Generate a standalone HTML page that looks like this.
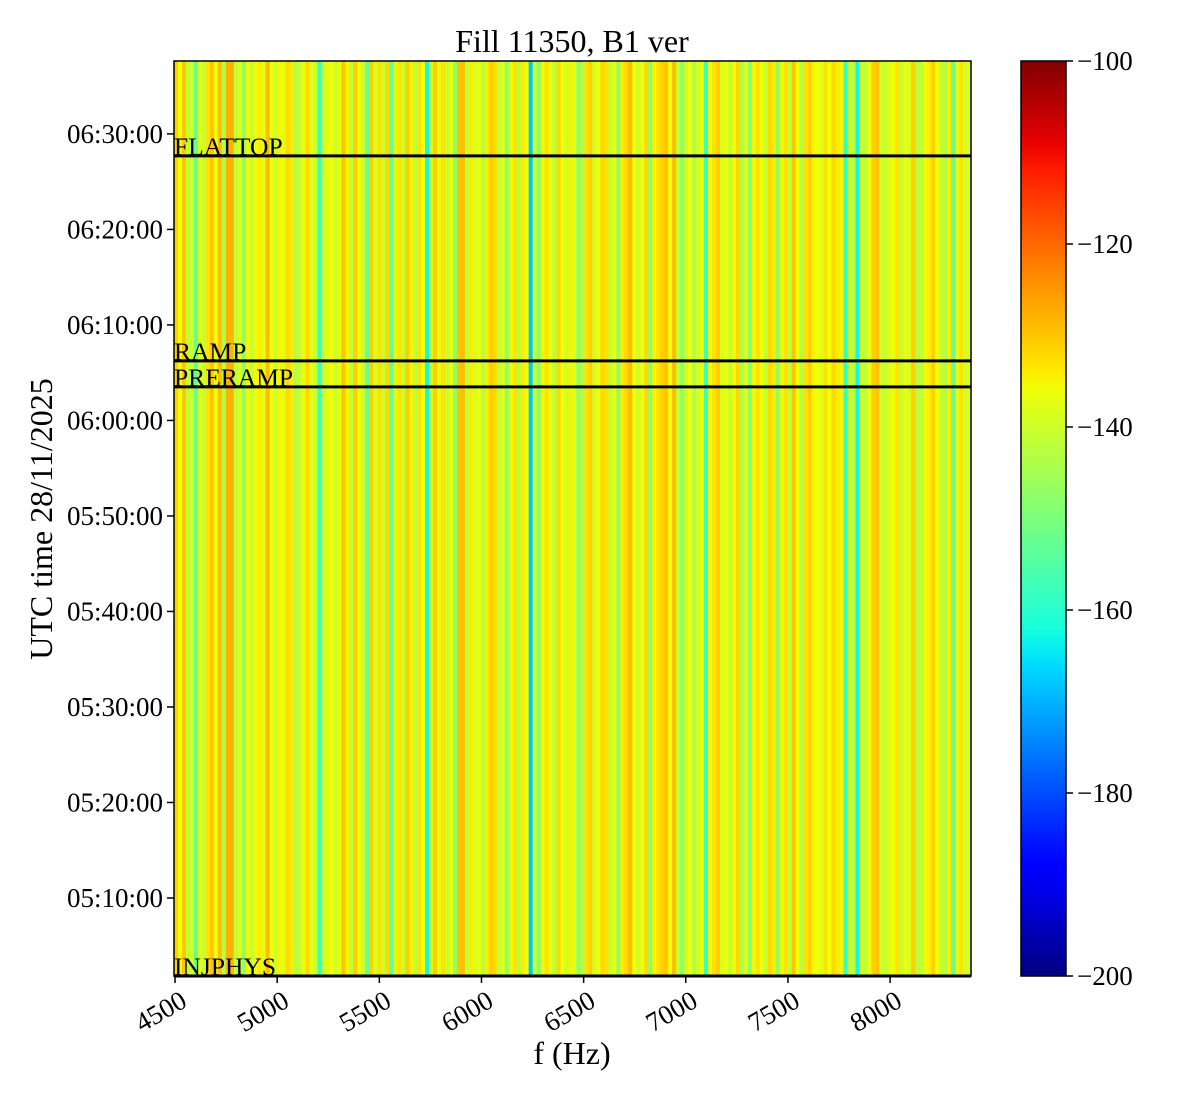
<!DOCTYPE html>
<html><head><meta charset="utf-8"><style>
body{margin:0;background:#fff}
svg text{font-family:"Liberation Serif",serif;fill:#000}
</style></head><body>
<svg id="chart" width="1200" height="1100" xmlns="http://www.w3.org/2000/svg">
<text x="572" y="52" font-size="32" text-anchor="middle">Fill 11350, B1 ver</text>
<g id="heat"></g>
<g id="events"></g>
<rect x="174" y="61" width="797" height="915" fill="none" stroke="#000" stroke-width="1.5"/>
<g id="xaxis"></g>
<g id="yaxis"></g>
<text x="572" y="1064" font-size="32" text-anchor="middle">f (Hz)</text>
<text transform="translate(52,519) rotate(-90)" font-size="32" text-anchor="middle">UTC time 28/11/2025</text>
<defs><linearGradient id="jetg" x1="0" y1="1" x2="0" y2="0"></linearGradient></defs>
<rect x="1021" y="61" width="45" height="915" fill="url(#jetg)" stroke="#000" stroke-width="1.5"/>
<g id="cbaxis"></g>
</svg>
<script>
const fMin = 4495, fMax = 8396;
const tMin = 5*3600+1*60+50, tMax = 6*3600+37*60+38;
const vMin = -200, vMax = -100;
const xTicks = [4500,5000,5500,6000,6500,7000,7500,8000];
const yTickLabels = ["05:10:00","05:20:00","05:30:00","05:40:00","05:50:00","06:00:00","06:10:00","06:20:00","06:30:00"];
const cbTicks = [-100,-120,-140,-160,-180,-200];
const eventNames = ["INJPHYS","PRERAMP","RAMP","FLATTOP"];
const eventTimes = ["05:01:50","06:03:31","06:06:14","06:27:42"];
const binValues = [
-131,-136,-130,-141,-140,-153,-137,-141,-133,-130,-136,-129,-143,-128,-128,-142,-137,-148,-135,-141,-136,-134,-137,-129,-136,-140,-135,-137,-132,-134,-143,-141,-136,-132,-137,-141,-158,-141,-137,-136,-140,-137,-130,-135,-142,-131,-136,-141,-153,-131,
-139,-133,-141,-132,-153,-137,-133,-141,-131,-135,-142,-133,-136,-163,-139,-131,-137,-133,-141,-136,-148,-130,-129,-141,-134,-139,-136,-143,-134,-131,-132,-141,-137,-148,-136,-133,-143,-134,-136,-168,-141,-148,-136,-133,-137,-143,-132,-136,-140,-135,
-138,-148,-143,-133,-131,-140,-136,-132,-133,-141,-136,-148,-134,-132,-129,-136,-140,-136,-132,-148,-135,-133,-131,-130,-136,-129,-141,-148,-140,-136,-144,-139,-137,-158,-136,-133,-131,-139,-136,-141,-136,-132,-144,-138,-148,-136,-133,-136,-141,-132,
-134,-148,-136,-133,-142,-130,-136,-143,-133,-131,-135,-136,-138,-133,-136,-132,-134,-135,-158,-141,-142,-163,-140,-142,-136,-131,-130,-140,-141,-137,-136,-133,-141,-136,-139,-131,-143,-141,-136,-134,-131,-136,-141,-143,-134,-153,-136,-133,-140,-137];

const PX0=174,PX1=971,PY0=61,PY1=976;
const xs=f=>PX0+(f-fMin)/(fMax-fMin)*(PX1-PX0);
const ys=t=>PY1-(t-tMin)/(tMax-tMin)*(PY1-PY0);
const cs=v=>976-(v-vMin)/(vMax-vMin)*915;
const toSec=s=>{const p=s.split(':').map(Number);return p[0]*3600+p[1]*60+p[2];};
function interp(pts,x){for(let i=1;i<pts.length;i++){if(x<=pts[i][0]){const a=pts[i-1],b=pts[i];return a[1]+(b[1]-a[1])*(x-a[0])/(b[0]-a[0]);}}return pts[pts.length-1][1];}
function jet(v){const x=Math.max(0,Math.min(1,(v-vMin)/(vMax-vMin)));
const r=interp([[0,0],[0.35,0],[0.66,1],[0.89,1],[1,0.5]],x);
const g=interp([[0,0],[0.125,0],[0.375,1],[0.64,1],[0.91,0],[1,0]],x);
const b=interp([[0,0.5],[0.11,1],[0.34,1],[0.65,0],[1,0]],x);
return `rgb(${Math.round(r*255)},${Math.round(g*255)},${Math.round(b*255)})`;}
const NS="http://www.w3.org/2000/svg";
function mk(tag,attrs,parent){const e=document.createElementNS(NS,tag);for(const k in attrs)e.setAttribute(k,attrs[k]);parent.appendChild(e);return e;}
const heat=document.getElementById('heat');
const bw=(fMax-fMin)/binValues.length;
binValues.forEach((v,i)=>{const x0=xs(fMin+i*bw),x1=xs(fMin+(i+1)*bw);
const r=mk('rect',{x:x0,y:PY0,width:x1-x0+0.5,height:PY1-PY0,fill:jet(v)},heat);

});
const ev=document.getElementById('events');
eventNames.forEach((n,i)=>{const y=ys(toSec(eventTimes[i]));
const l=mk('line',{x1:PX0,x2:PX1,y1:y,y2:y,stroke:'#000','stroke-width':3},ev);


const t=mk('text',{x:PX0,y:y-1,'font-size':25.5},ev);t.textContent=n;

});
const xa=document.getElementById('xaxis');
xTicks.forEach(f=>{const x=xs(f);
const tk=mk('line',{x1:x,x2:x,y1:PY1,y2:PY1+7,stroke:'#000','stroke-width':1.5},xa);


const t=mk('text',{transform:`translate(${x+4},${PY1+13}) rotate(-30)`,'font-size':27,'text-anchor':'end','dominant-baseline':'hanging'},xa);t.textContent=f;

});
const ya=document.getElementById('yaxis');
yTickLabels.forEach(s=>{const y=ys(toSec(s));
const tk=mk('line',{x1:PX0-7,x2:PX0,y1:y,y2:y,stroke:'#000','stroke-width':1.5},ya);


const t=mk('text',{x:PX0-11,y:y+9,'font-size':27,'text-anchor':'end'},ya);t.textContent=s;

});
const gr=document.getElementById('jetg');
for(let i=0;i<=50;i++){const v=vMin+(vMax-vMin)*i/50;mk('stop',{offset:(i/50),'stop-color':jet(v)},gr);}
const cb=document.getElementById('cbaxis');
cbTicks.forEach(v=>{const y=cs(v);
const tk=mk('line',{x1:1066,x2:1073,y1:y,y2:y,stroke:'#000','stroke-width':1.5},cb);


const t=mk('text',{x:1077,y:y+9,'font-size':27},cb);t.textContent='\u2212'+Math.abs(v);

});
</script>
</body></html>
